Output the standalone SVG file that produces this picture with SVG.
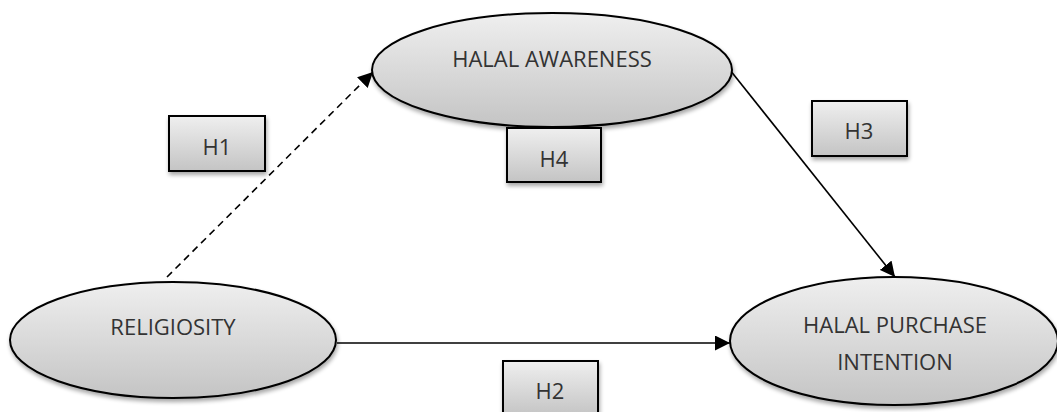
<svg xmlns="http://www.w3.org/2000/svg" width="1057" height="412" viewBox="0 0 1057 412">
<defs>
<linearGradient id="g" x1="0" y1="0" x2="0" y2="1">
<stop offset="0" stop-color="#efefef"/>
<stop offset="1" stop-color="#c4c4c4"/>
</linearGradient>
<filter id="sh" x="-10%" y="-10%" width="120%" height="130%">
<feGaussianBlur in="SourceAlpha" stdDeviation="2"/>
<feOffset dx="1" dy="3" result="b"/>
<feComponentTransfer><feFuncA type="linear" slope="0.35"/></feComponentTransfer>
<feMerge><feMergeNode/><feMergeNode in="SourceGraphic"/></feMerge>
</filter>
<marker id="arr" viewBox="0 0 10 10" refX="10" refY="5" markerWidth="15" markerHeight="15" markerUnits="userSpaceOnUse" orient="auto">
<path d="M0,0 L10,5 L0,10 Z" fill="#000"/>
</marker>
</defs>
<style>
.shape{fill:url(#g);stroke:#000;stroke-width:2;filter:url(#sh)}
.t{font-family:"Open Sans","Noto Sans","Liberation Sans",sans-serif;font-size:22px;fill:#333;text-anchor:middle}
.c{stroke:#000;stroke-width:1.6;fill:none;marker-end:url(#arr)}
</style>
<rect width="1057" height="412" fill="#fff"/>
<g id="connectors">
<line class="c" x1="167" y1="277" x2="373" y2="72" stroke-dasharray="7,5"/>
<line class="c" x1="337" y1="343" x2="730" y2="343"/>
<line class="c" x1="730" y1="70" x2="895" y2="277"/>
</g>
<g id="halal-awareness">
<ellipse class="shape" cx="552" cy="70" rx="180" ry="57"/>
<text class="t" x="552" y="67">HALAL AWARENESS</text>
</g>
<g id="religiosity">
<ellipse class="shape" cx="173" cy="340" rx="163" ry="58"/>
<text class="t" x="173" y="335">RELIGIOSITY</text>
</g>
<g id="halal-purchase-intention">
<ellipse class="shape" cx="894" cy="341" rx="164" ry="64"/>
<text class="t" x="895" y="333">HALAL PURCHASE</text>
<text class="t" x="895" y="370">INTENTION</text>
</g>
<g id="h1">
<rect class="shape" x="169" y="116" width="96" height="55"/>
<text class="t" x="217" y="155">H1</text>
</g>
<g id="h4">
<rect class="shape" x="507" y="128" width="94" height="54"/>
<text class="t" x="554" y="167">H4</text>
</g>
<g id="h3">
<rect class="shape" x="812" y="101" width="95" height="55"/>
<text class="t" x="859" y="139">H3</text>
</g>
<g id="h2">
<rect class="shape" x="503" y="361" width="95" height="55"/>
<text class="t" x="550" y="399">H2</text>
</g>
</svg>
